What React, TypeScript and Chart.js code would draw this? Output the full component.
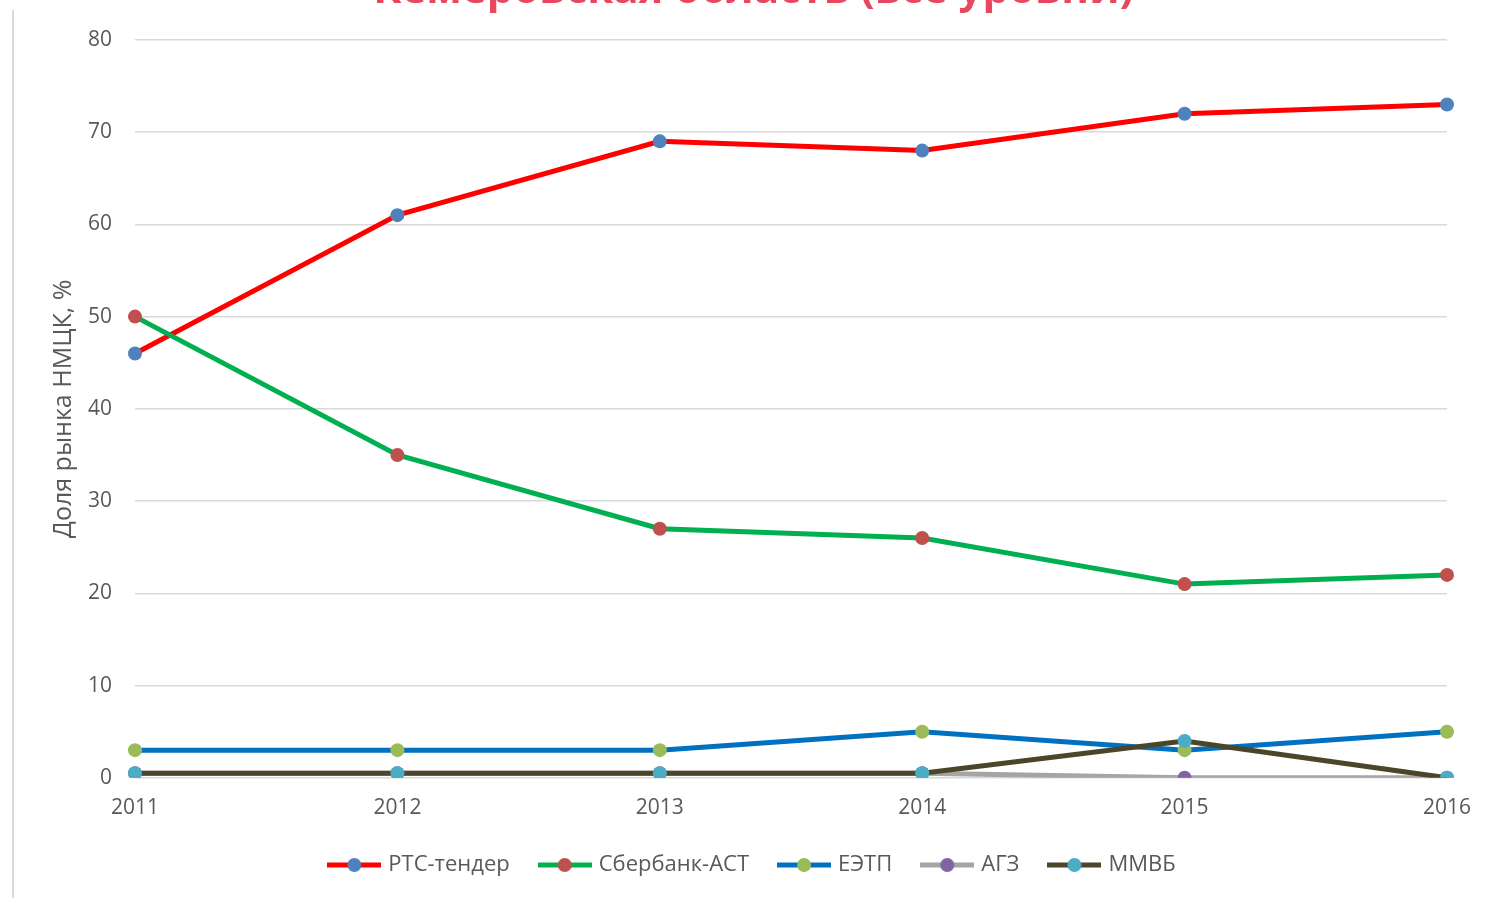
import React, { useEffect, useRef } from "react";
import { Chart, registerables } from "chart.js";

Chart.register(...registerables);

const years = ["2011", "2012", "2013", "2014", "2015", "2016"];
const rtsTender = [46, 61, 69, 68, 72, 73];
const sberbankAst = [50, 35, 27, 26, 21, 22];
const eetp = [3, 3, 3, 5, 3, 5];
const agz = [0.5, 0.5, 0.5, 0.5, 0, 0];
const mmvb = [0.5, 0.5, 0.5, 0.5, 4, 0];
const yTicks = [0, 10, 20, 30, 40, 50, 60, 70, 80];

const seriesNames = ["РТС-тендер", "Сбербанк-АСТ", "ЕЭТП", "АГЗ", "ММВБ"];
const seriesValues = [rtsTender, sberbankAst, eetp, agz, mmvb];
const lineColors = ["#FF0000", "#00B050", "#0070C0", "#A5A5A5", "#4B4529"];
const markerColors = ["#4F81BD", "#C0504D", "#9BBB59", "#8064A2", "#4BACC6"];

const FONT = "'Open Sans', 'Noto Sans', sans-serif";
const TEXT = "#595959";
const OFFSET = 34;

function makeLegendIcon(line: string, marker: string): HTMLCanvasElement {
  const c = document.createElement("canvas");
  c.width = 54;
  c.height = 16;
  const ctx = c.getContext("2d")!;
  ctx.strokeStyle = line;
  ctx.lineWidth = 5;
  ctx.beginPath();
  ctx.moveTo(0, 8);
  ctx.lineTo(54, 8);
  ctx.stroke();
  ctx.fillStyle = marker;
  ctx.beginPath();
  ctx.arc(27, 8, 7, 0, Math.PI * 2);
  ctx.fill();
  return c;
}

export default function App() {
  const ref = useRef<HTMLCanvasElement | null>(null);

  useEffect(() => {
    document.body.style.margin = "0";
    if (!ref.current) return;
    const icons = seriesNames.map((_, i) => makeLegendIcon(lineColors[i], markerColors[i]));
    const chart = new Chart(ref.current, {
      type: "line",
      data: {
        labels: years,
        datasets: seriesNames.map((name, i) => ({
          label: name,
          data: seriesValues[i],
          borderColor: lineColors[i],
          backgroundColor: markerColors[i],
          pointBackgroundColor: markerColors[i],
          pointBorderWidth: 0,
          pointRadius: 7,
          borderWidth: 5,
          tension: 0,
          fill: false,
          order: seriesNames.length - i,
        })),
      },
      options: {
        animation: false,
        responsive: false,
        maintainAspectRatio: false,
        layout: { padding: { left: 60, right: 46, top: 0, bottom: 12 } },
        plugins: {
          tooltip: { enabled: false },
          title: {
            display: true,
            text: "Кемеровская область (все уровни)",
            color: "#E8475F",
            font: { family: FONT, size: 42, weight: "bold" },
            padding: { top: 0, bottom: 23.5 },
          },
          legend: {
            position: "bottom",
            labels: {
              usePointStyle: true,
              pointStyleWidth: 46,
              boxHeight: 16,
              padding: 32,
              color: TEXT,
              font: { family: FONT, size: 22 },
              generateLabels: (ch) =>
                ch.data.datasets.map((ds, i) => ({
                  text: ds.label as string,
                  pointStyle: icons[i],
                  fillStyle: markerColors[i],
                  strokeStyle: lineColors[i],
                  lineWidth: 0,
                  hidden: false,
                  datasetIndex: i,
                  fontColor: TEXT,
                })),
            },
          },
        },
        scales: {
          x: {
            type: "category",
            offset: false,
            grid: { display: false, drawTicks: false },
            border: { display: false },
            ticks: { color: TEXT, font: { family: FONT, size: 21 }, padding: 18 },
            afterFit: (scale: any) => {
              scale.height = scale.height - 17;
            },
          },
          y: {
            min: 0,
            max: 80,
            afterBuildTicks: (scale: any) => {
              scale.ticks = yTicks.map((v) => ({ value: v }));
            },
            afterFit: (scale: any) => {
              scale.width = 75;
            },
            grid: { color: "#D9D9D9", lineWidth: 1.5, drawTicks: false },
            border: { display: false },
            ticks: { color: TEXT, font: { family: FONT, size: 21 }, padding: 23 },
            title: {
              display: true,
              text: "Доля рынка НМЦК, %",
              color: TEXT,
              font: { family: FONT, size: 25 },
              padding: { top: -11, bottom: 0 },
            },
          },
        },
      },
    });
    return () => chart.destroy();
  }, []);

  return (
    <div style={{ position: "relative", width: 1493, height: 898, overflow: "hidden", background: "#fff" }}>
      <div style={{ position: "absolute", left: 12, top: 10, bottom: 0, width: 2, background: "#D9D9D9" }} />
      <canvas
        ref={ref}
        width={1493}
        height={898 + OFFSET}
        style={{ position: "absolute", left: 0, top: -OFFSET, width: 1493, height: 898 + OFFSET }}
      />
    </div>
  );
}
